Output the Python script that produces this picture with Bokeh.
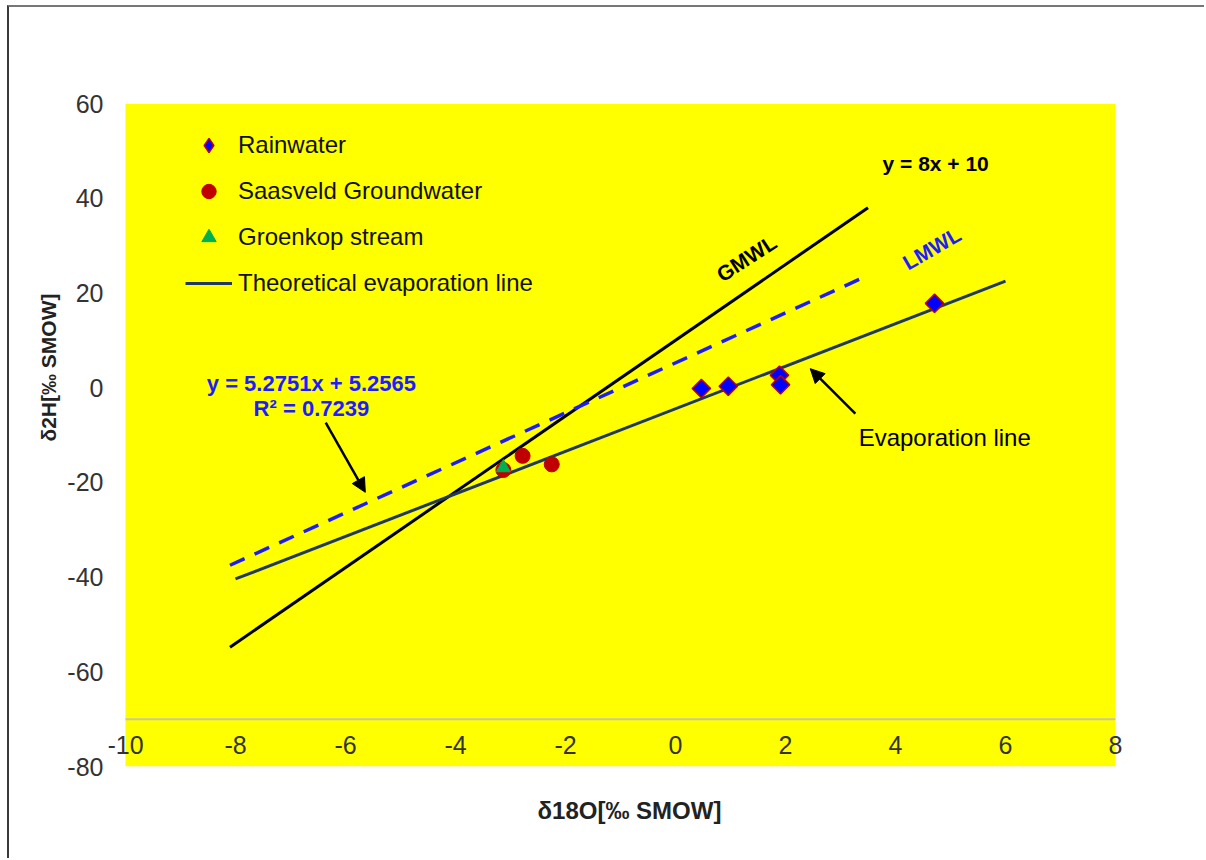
from bokeh.plotting import figure
from bokeh.models import (Range1d, FixedTicker, Label, Arrow, NormalHead, Title,
                          Legend, LegendItem, PrintfTickFormatter)
from bokeh.embed import file_html
from bokeh.resources import INLINE
import math

# ---------------- data ----------------
rain_x = [0.47, 0.96, 1.89, 1.91, 4.71]
rain_y = [-0.2, 0.3, 2.6, 0.6, 17.8]
gw_x = [-3.13, -2.78, -2.25]
gw_y = [-17.4, -14.4, -16.2]
stream_x = [-3.13]
stream_y = [-16.9]
gmwl_x = [-8.1, 3.5]
gmwl_y = [-54.8, 38.0]
lmwl_x = [-8.1, 3.5]
lmwl_y = [-37.5, 23.7]
evap_x = [-8.0, 6.0]
evap_y = [-40.4, 22.5]
x_ticks = [-10, -8, -6, -4, -2, 0, 2, 4, 6, 8]
y_ticks = [-80, -60, -40, -20, 0, 20, 40, 60]
x_axis_cross = -70

FONT = "Liberation Sans"

p = figure(width=1197, height=853,
           x_range=Range1d(x_ticks[0] - 17 / 55, x_ticks[-1] + 10 / 55),
           y_range=Range1d(y_ticks[0], y_ticks[-1]),
           output_backend="svg", toolbar_location=None,
           min_border_left=99, min_border_right=81, min_border_top=96, min_border_bottom=94)
p.styles = {"margin-left": "7px", "margin-top": "5px",
            "border-left": "2px solid #3a3a3a", "border-top": "2px solid #777777"}
p.background_fill_color = "white"
p.border_fill_color = "white"
p.outline_line_color = None
p.xgrid.visible = False
p.ygrid.visible = False

# yellow plot area
p.quad(left=[x_ticks[0]], right=[x_ticks[-1]], bottom=[y_ticks[0]], top=[y_ticks[-1]],
       fill_color="#FFFF00", line_color=None)
p.line([x_ticks[0], x_ticks[-1]], [x_axis_cross, x_axis_cross],
       line_color="#c8c8a0", line_width=2)

# x axis crossing at -70
xa = p.xaxis[0]
xa.fixed_location = x_axis_cross
xa.ticker = FixedTicker(ticks=x_ticks)
xa.formatter = PrintfTickFormatter(format="%d")
xa.major_tick_out = 0
xa.major_tick_in = 0
xa.minor_tick_out = 0
xa.minor_tick_in = 0
xa.axis_line_color = None
xa.major_label_standoff = 17
xa.major_label_text_font = FONT
xa.major_label_text_font_size = "25px"
xa.major_label_text_color = "#333333"

ya = p.yaxis[0]
ya.ticker = FixedTicker(ticks=y_ticks)
ya.formatter = PrintfTickFormatter(format="%d")
ya.major_tick_out = 0
ya.major_tick_in = 0
ya.minor_tick_out = 0
ya.minor_tick_in = 0
ya.axis_line_color = None
ya.major_label_standoff = 5
ya.major_label_text_font = FONT
ya.major_label_text_font_size = "25px"
ya.major_label_text_color = "#333333"

# axis titles
p.add_layout(Title(text="δ18O[‰ SMOW]", align="left", offset=429, standoff=56,
                   text_font=FONT, text_font_size="24px", text_font_style="bold",
                   text_color="#222222"), "below")
p.add_layout(Title(text="δ2H[‰ SMOW]", align="right", offset=190, standoff=10,
                   text_font=FONT, text_font_size="21px", text_font_style="bold",
                   text_color="#222222"), "left")

# ---------------- lines ----------------
p.line(gmwl_x, gmwl_y, line_color="black", line_width=3)
p.line(lmwl_x, lmwl_y, line_color="#1c1cff", line_width=3.5, line_dash="16 11")
r_evap = p.line(evap_x, evap_y, line_color="#1f3864", line_width=3)

# ---------------- points ----------------
p.scatter(rain_x, rain_y, marker="square", angle=math.pi / 4, size=13,
          fill_color="#0000FF", line_color="#C00000", line_width=1.5)
# legend-only proxy (no visible point): diamond symbol for the legend
r_rain_leg = p.scatter([float("nan")], [float("nan")], marker="diamond",
                       fill_color="#0000FF", line_color="#C00000", line_width=1.5)
r_gw = p.scatter(gw_x, gw_y, marker="circle", size=15,
                 fill_color="#C00000", line_color="#C00000")
r_st = p.scatter(stream_x, stream_y, marker="triangle", size=14,
                 fill_color="#00B050", line_color="#00B050")

legend = Legend(items=[LegendItem(label="Rainwater", renderers=[r_rain_leg]),
                       LegendItem(label="Saasveld Groundwater", renderers=[r_gw]),
                       LegendItem(label="Groenkop stream", renderers=[r_st]),
                       LegendItem(label="Theoretical evaporation line", renderers=[r_evap])],
                location=(77, 465), margin=0, padding=0,
                background_fill_alpha=0, border_line_color=None,
                label_text_font=FONT, label_text_font_size="24px",
                label_text_color="#111111",
                glyph_width=47, glyph_height=36, label_height=20,
                spacing=10, label_standoff=6)
p.add_layout(legend)

# ---------------- annotations ----------------
def lab(x, y, text, size, color="black", bold=True, align="center", angle=0.0):
    p.add_layout(Label(x=x, y=y, text=text, text_font=FONT, text_font_size=size,
                       text_color=color, text_font_style="bold" if bold else "normal",
                       text_align=align, text_baseline="middle", angle=angle))

lab(4.73, 47.3, "y = 8x + 10", "21px")
lab(1.29, 27.3, "GMWL", "21px", angle=math.radians(33))
lab(4.66, 29.4, "LMWL", "21px", color="#1c1cff", angle=math.radians(30))
lab(-6.62, 0.9, "y = 5.2751x + 5.2565", "22px", color="#1c1cff")
lab(-6.62, -4.4, "R² = 0.7239", "22px", color="#1c1cff")
lab(3.33, -10.5, "Evaporation line", "24px", bold=False, align="left")

arrow_x0 = [-6.36, 3.27]
arrow_y0 = [-7.4, -5.5]
arrow_x1 = [-5.64, 2.45]
arrow_y1 = [-22.1, 4.0]
for i in range(2):
    p.add_layout(Arrow(end=NormalHead(size=14, fill_color="black", line_color="black"),
                       x_start=arrow_x0[i], y_start=arrow_y0[i],
                       x_end=arrow_x1[i], y_end=arrow_y1[i],
                       line_color="black", line_width=2.5))

open("out.html", "w").write(file_html(p, INLINE))
